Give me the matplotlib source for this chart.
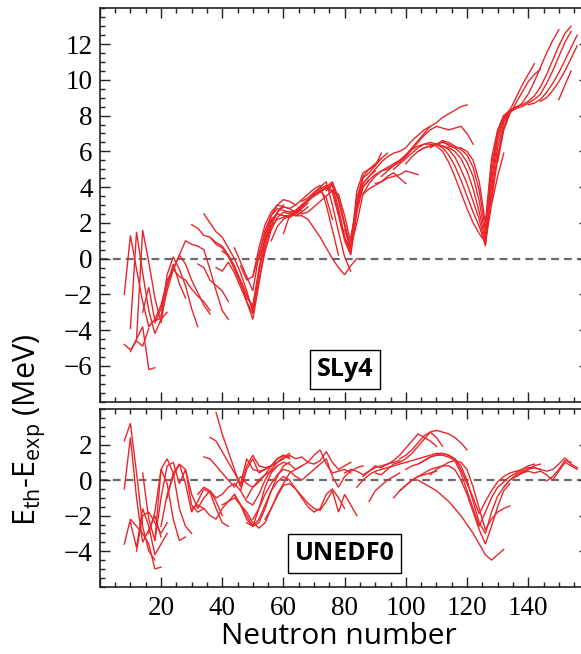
import numpy as np
import matplotlib
matplotlib.use("Agg")
import matplotlib.pyplot as plt
from matplotlib.ticker import MultipleLocator, FixedLocator

# Residuals E_th - E_exp (MeV) along isotopic chains; each chain is given by its
# first neutron number and the values at every second neutron number after it.
SLY4_START = [8, 8, 10, 10, 12, 14, 16, 18, 20,
              30, 34, 36, 32, 38, 40,
              44, 46, 50, 52, 56, 60, 62,
              66, 70, 74, 80, 82, 86, 90,
              92, 96, 100, 104, 108, 110, 112,
              128, 130, 132, 134, 136, 140, 144, 150]
SLY4_VALUES = [
    [-2.0, 1.3, -0.6, -2.4, -3.8, -3.4],
    [-4.8, -5.1, -4.6, -4.9, -3.9],
    [-3.9, 1.5, -0.8, -2.9, -4.2, -3.4, -3.0],
    [-5.2, -4.5, -3.8, -6.2, -6.1],
    [-4.5, 1.6, -0.2, -2.2, -3.6, -1.5, -0.3, -1.4, -2.2],
    [-3.0, -1.6, -3.5, -3.3, -0.9, 0.1, -0.6, -1.5, -2.8, -3.8],
    [-3.8, -3.4, -2.6, -1.2, -0.6, 0.2, -0.3, -1.2, -1.9, -2.6, -3.1],
    [-3.6, -2.8, -1.4, -0.6, 0.2, 1.0, 0.8, 0.7, 0.5, -0.6, -1.8, -2.9, -3.4],
    [-3.2, -1.8, -0.6, -1.0, -1.2, -1.7, -2.1, -2.4, -2.9],
    [1.9, 1.7, 1.3, 1.2, 0.9, 0.7, 0.2, -0.4, -1.3, -2.4, -3.4, -1.4, 0.6, 1.8, 2.6, 3.0],
    [2.5, 2.0, 1.5, 1.2, 0.6, 0.0, -0.8, -1.8, -3.0, -0.6, 1.2, 2.4, 3.0, 3.3, 3.2, 3.0],
    [1.2, 0.8, 0.6, 0.1, -0.5, -1.2, -2.0, -2.8, -0.8, 0.9, 2.0, 2.6, 2.9, 2.8, 2.6, 2.7],
    [-0.3, -0.5, -1.2, -1.5, -1.8, -2.4],
    [-0.5, -0.7, -0.2, -0.8, -1.6, -2.4, -3.1, -1.2, 0.4, 1.6, 2.3, 2.6, 2.5, 2.4, 2.6, 2.9],
    [0.4, 0.2, -0.6, -1.4, -2.2, -2.6, -0.6, 1.0, 2.1, 2.5, 2.4, 2.3, 2.5, 2.8, 3.1],
    [0.6, -0.2, -1.0, -1.8, 0.2, 1.6, 2.4, 2.8, 2.7, 2.6, 2.7, 3.0, 3.3, 3.6, 3.8, 3.4, 2.2],
    [-0.4, -1.2, -1.0, 0.6, 1.9, 2.6, 3.0, 2.9, 2.8, 3.0, 3.3, 3.6, 3.9, 4.1, 3.0, 1.6, 0.2],
    [-1.0, 0.2, 1.4, 2.2, 2.5, 2.4, 2.4, 2.6, 2.9, 3.3, 3.7, 4.0, 4.3, 3.0, 1.5, 0.1, -0.7],
    [0.0, 1.0, 1.8, 2.2, 2.3, 2.4, 2.6, 2.9, 3.2, 3.5, 3.8, 4.0, 3.7, 2.4, 1.0, 0.2, 2.6, 4.0, 4.4],
    [1.0, 1.8, 2.2, 2.4, 2.7, 3.0, 3.3, 3.6, 3.8, 3.9, 4.2, 3.2, 1.8, 0.4, 2.8, 4.2, 4.6, 4.9],
    [1.4, 2.4, 2.6, 2.5, 2.6, 2.9, 3.2, 3.5, 3.8, 3.6, 2.4, 0.9, 3.2, 4.5, 4.8, 5.2, 5.6],
    [2.6, 2.4, 2.4, 2.2, 1.7, 1.2, 0.6, 0.0, -0.5, -0.9, -0.4, 0.0],
    [3.2, 3.4, 3.7, 3.9, 4.1, 3.8, 2.6, 1.2, 0.3, 3.4, 4.6, 5.0, 5.3, 5.6, 5.9],
    [3.5, 3.7, 4.0, 4.3, 3.4, 2.0, 0.6, 3.8, 4.8, 5.0, 5.2, 5.9],
    [3.8, 4.1, 2.8, 1.2, 0.5, 3.2, 4.2, 4.6, 5.0, 5.4, 5.7, 5.9, 6.0, 6.2, 6.6, 6.9, 7.2, 7.4],
    [1.6, 0.6, 2.0, 3.6, 4.2, 4.6, 4.9, 5.0, 5.2, 5.4, 5.7, 6.1, 6.5, 6.9, 7.2, 7.4, 7.3, 7.2,
     7.3, 7.4, 7.0, 6.4],
    [1.2, 3.0, 4.0, 4.4, 4.7, 4.9, 5.1, 5.3, 5.5, 5.8, 6.2, 6.6, 7.0, 7.4, 7.6, 7.9, 8.1, 8.3,
     8.5, 8.6],
    [3.6, 3.9, 4.1, 4.3, 4.6, 4.8, 4.5, 4.2],
    [4.2, 4.3, 4.5, 4.6, 4.7, 4.9, 4.8, 4.7],
    [4.6, 4.9, 5.2, 5.5, 5.8, 6.1, 6.3, 6.4, 6.4, 6.3, 6.0, 5.4, 4.6, 3.7, 2.8, 2.0, 1.4, 0.9,
     3.0, 4.6, 5.9],
    [5.0, 5.3, 5.6, 5.9, 6.2, 6.4, 6.5, 6.4, 6.2, 5.8, 5.2, 4.4, 3.5, 2.6, 1.8, 0.8, 3.6, 5.8,
     7.3, 8.2, 8.4],
    [5.3, 5.7, 6.0, 6.2, 6.3, 6.4, 6.3, 6.1, 5.7, 5.0, 4.2, 3.2, 2.2, 0.7, 4.0, 6.2, 7.6, 8.3],
    [6.0, 6.2, 6.3, 6.4, 6.3, 6.2, 6.0, 5.6, 4.9, 3.9, 2.6, 1.0, 4.4, 6.6, 7.8, 8.3],
    [6.2, 6.4, 6.5, 6.4, 6.2, 5.9, 5.4, 4.6, 3.2, 1.2, 4.8, 6.9, 7.9, 8.3],
    [6.4, 6.6, 6.5, 6.3, 6.1, 5.8, 5.1, 3.8, 1.6, 5.2, 7.1, 8.0],
    [6.6, 6.3, 6.2, 6.2, 6.0, 5.5, 4.3, 2.0, 5.6, 7.2, 8.0, 8.3],
    [3.2, 5.6, 7.3, 8.3, 9.0, 9.7, 10.3, 10.9],
    [5.4, 7.2, 8.1, 8.7, 9.3, 9.9, 10.3, 10.6],
    [7.8, 8.2, 8.4, 8.7, 9.2, 9.9, 10.7, 11.5, 12.2, 12.8],
    [8.3, 8.5, 8.6, 8.8, 9.1, 9.6, 10.3, 11.1, 11.9, 12.6, 13.0],
    [8.4, 8.5, 8.7, 8.9, 9.2, 9.8, 10.5, 11.3, 12.1, 12.7],
    [8.6, 8.7, 8.9, 9.3, 9.8, 10.4, 11.1, 11.8, 12.5],
    [8.8, 9.0, 9.4, 9.9, 10.5, 11.2, 11.9],
    [8.9, 9.7, 10.5],
]

UNEDF0_START = [8, 8, 8, 10, 12, 14, 16, 18, 20, 22,
                36, 38, 34, 32, 30, 40, 44,
                46, 48, 50, 48, 54,
                90, 86, 84, 100, 104, 96, 104, 108, 98,
                132, 136, 144, 146,
                80, 88, 98]
UNEDF0_VALUES = [
    [-0.5, 2.4, -1.0, -3.5, -2.8, -2.0, -3.2],
    [2.2, 3.2, 0.4, -2.6, -4.0, -4.5],
    [-3.6, -2.2, -2.6, -3.0, -3.6, -5.0, -4.9],
    [-2.4, -3.8, -1.6, -2.6, -4.2, -3.6, -3.0],
    [-4.0, -2.0, -1.8, -2.4, -3.0, -2.4],
    [0.4, -2.2, -3.4, 0.6, -0.2, -2.2, -3.4, -3.2],
    [-3.0, -1.8, 0.6, 1.2, 0.4, -1.6, -2.6, -3.0],
    [-3.4, -1.0, 0.8, 1.0, -0.2, 0.6, -1.4, -1.8, -1.6],
    [-2.6, -0.8, 0.2, 0.9, 0.6, -0.8, -1.6, -1.0, -0.6, -1.2, -2.0],
    [-1.0, 0.4, 0.9, -0.2, -1.8, -1.2, -0.5, -0.7, -1.6, -2.4, -2.6],
    [2.4, 2.2, 1.6, 1.0, 0.4, -0.2, 1.2, 0.6, 0.5, 0.6, 0.8, 1.2, 1.4, 1.2],
    [3.8, 2.6, 1.6, 0.6, -0.4, 0.8, 1.4, 0.8, 0.7, 0.8, 1.0, 1.3, 1.5],
    [1.3, 1.2, 0.8, 0.4, 0.0, -0.4, 0.2, -0.2, -0.4, -0.1, 0.3, 0.8, 1.2, 1.4, 1.3],
    [-0.8, -0.4, -0.6, -1.0, -0.8, -0.4, -0.2, -0.6, -1.2, -1.4, -0.8, 0.0, 0.6, 1.0],
    [-1.6, -1.4, -1.6, -2.0, -2.2, -1.6, -1.2, -0.8, -1.4, -2.0, -2.6, -1.6, -0.4, 0.4, 0.8],
    [-1.4, -1.2, -1.0, -1.4, -2.2, -2.6, -2.4, -1.6, -0.6, 0.2, 0.8, 1.0],
    [-0.8, -1.4, -1.8, -2.4, -2.7, -2.4, -1.6, -0.8, -0.2, 0.4, 0.6, 0.8],
    [-0.6, 0.6, 1.2, 0.4, 0.6, 0.8, 1.0, 1.2, 1.4, 1.2, 1.3, 1.0, 0.9, 1.1, 1.6, 1.0, 0.6, 0.8,
     1.0],
    [-1.0, -0.4, 0.0, 0.3, 0.5, 0.8, 1.0, 0.9, 0.6, 0.8, 1.0, 1.4, 1.7, 0.9, 0.4, 0.5, 0.6, 0.4],
    [-2.2, -1.6, -0.8, -0.2, 0.3, 0.6, 0.5, 0.2, 0.0, 0.3, 0.6, 0.9, 1.2, 0.2, -0.4, 0.2, 0.5,
     0.7, 0.8],
    [-2.4, -2.6, -2.2, -1.4, -0.6, -0.1, 0.2, 0.0, -0.5, -1.0, -1.5, -1.8, -1.6, -0.8, -0.5,
     -1.0, -1.6],
    [-2.2, -1.6, -0.9, -0.3, -0.2, -0.5, -0.9, -1.3, -1.6, -1.7, -1.2, -0.6, -1.8, -0.8, -1.4,
     -2.0],
    [0.4, 0.3, 0.6, 0.9, 1.0, 1.2, 1.5, 1.9, 2.3, 2.7, 2.8, 2.7, 2.6, 2.4, 2.1, 1.7],
    [0.2, 0.5, 0.8, 0.7, 0.9, 1.1, 1.4, 1.8, 2.2, 2.6, 2.4, 2.2, 1.9],
    [-0.4, 0.0, 0.3, 0.5, 0.6, 0.7, 0.8, 0.9, 1.0, 1.1, 1.2, 1.3, 1.4, 1.5, 1.5, 1.4, 1.2, 0.6,
     -0.2, -1.0, -1.9, -1.2, -0.6, -0.1, 0.2, 0.4, 0.5, 0.6, 0.7, 0.7, 0.6],
    [0.6, 0.8, 0.9, 1.1, 1.3, 1.4, 1.4, 1.3, 1.1, 0.4, -0.6, -1.6, -2.6, -1.8, -1.0, -0.4, -0.1,
     0.2, 0.4, 0.6, 0.8, 0.9],
    [0.9, 1.1, 1.3, 1.4, 1.5, 1.4, 1.2, 0.8, 0.0, -1.2, -2.4, -3.0, -1.8, -0.9, -0.4, 0.0, 0.2,
     0.4, 0.5, 0.4, 0.5],
    [-1.0, -0.6, -0.3, 0.0, 0.2, 0.4, 0.6, 0.7, 0.8, 0.8, 0.6, 0.0, -0.8, -1.8, -2.8, -3.6, -2.6,
     -1.5, -0.6, -0.2],
    [0.0, -0.2, -0.4, -0.6, -0.9, -1.2, -1.6, -2.0, -2.5, -3.0, -3.6, -4.2, -4.5, -4.2, -3.9],
    [0.3, 0.6, 0.8, 1.0, 1.1, 1.0, 0.6, -0.4, -1.6, -2.8, -2.2, -1.8, -1.6, -1.45],
    [1.2, 1.4, 1.7, 2.1, 2.5, 2.7, 2.4, 1.9],
    [-0.4, 0.0, 0.3, 0.5, 0.6, 0.7, 0.6, 0.5, 0.6, 0.9, 1.25, 0.9, 0.7],
    [0.2, 0.4, 0.6, 0.8, 0.9],
    [0.5, 0.3, 0.0, 0.5, 1.0, 0.8, 0.6],
    [-0.05, 0.2, 0.6, 1.1, 1.0],
    [0.4, 0.6, 0.5, 0.3, 0.5, 0.7, 0.8, 0.9, 1.0, 1.1],
    [-1.2, -0.6, -0.3, 0.0, 0.2, 0.4],
    [-0.6, -0.3, 0.0, 0.2, 0.3, 0.4, 0.5],
]

PANELS = [("SLy4", SLY4_START, SLY4_VALUES, (-8, 14), list(range(-6, 13, 2)), (80.1, -6.18)),
          ("UNEDF0", UNEDF0_START, UNEDF0_VALUES, (-6, 4), list(range(-4, 3, 2)), (80.0, -4.13))]
X_TICKS = [20, 40, 60, 80, 100, 120, 140]

RED = "#e8262a"
plt.rcParams["font.family"] = ["Liberation Serif", "DejaVu Serif"]
plt.rcParams["mathtext.fontset"] = "custom"
plt.rcParams["mathtext.rm"] = "Open Sans"
plt.rcParams["mathtext.it"] = "Open Sans"

fig = plt.figure(figsize=(5.81, 6.54), dpi=100)
ax_top = fig.add_axes([0.1718, 0.3858, 0.8427, 0.6015])
ax_bot = fig.add_axes([0.1718, 0.1029, 0.8427, 0.2717])

for ax, (name, starts, values, ylim, yticks, label_xy) in zip([ax_top, ax_bot], PANELS):
    ax.axhline(0, color="#6a6a6a", lw=1.6, ls=(0, (3.5, 2.3)), zorder=1)
    for start, vals in zip(starts, values):
        n = start + 2 * np.arange(len(vals))
        ax.plot(n, vals, color=RED, lw=1.0, zorder=2, solid_joinstyle="miter")
    ax.set_xlim(0, 160)
    ax.set_ylim(*ylim)
    ax.xaxis.set_major_locator(FixedLocator([0] + X_TICKS + [160]))
    ax.xaxis.set_minor_locator(MultipleLocator(5))
    ax.yaxis.set_major_locator(FixedLocator(yticks))
    ax.yaxis.set_minor_locator(MultipleLocator(0.5))
    ax.tick_params(which="both", direction="in", top=True, right=True,
                   width=1.0, color="#222222")
    ax.tick_params(which="major", length=7)
    ax.tick_params(which="minor", length=3.5)
    ax.tick_params(axis="y", labelsize=19.5, pad=5)
    ax.tick_params(axis="x", labelsize=19.5, pad=7)
    for sp in ax.spines.values():
        sp.set_linewidth(1.2)
        sp.set_color("#222222")
    ax.text(label_xy[0], label_xy[1], name, ha="center", va="center",
            fontsize=18, fontweight="bold", family="Open Sans", zorder=5,
            bbox=dict(boxstyle="square,pad=0.28", fc="white", ec="black", lw=1.0))

ax_top.tick_params(axis="x", labelbottom=False)
ax_bot.set_xticklabels([""] + [str(t) for t in X_TICKS] + [""])

fig.text(0.052, 0.3425, r"E$_{\mathrm{th}}$-E$_{\mathrm{exp}}$ (MeV)", rotation=90,
         ha="center", va="center", fontsize=22, family="Open Sans")
fig.text(0.5826, 0.027, "Neutron number", ha="center", va="center",
         fontsize=21.5, family="Open Sans")

fig.savefig("out.png", dpi=100)
